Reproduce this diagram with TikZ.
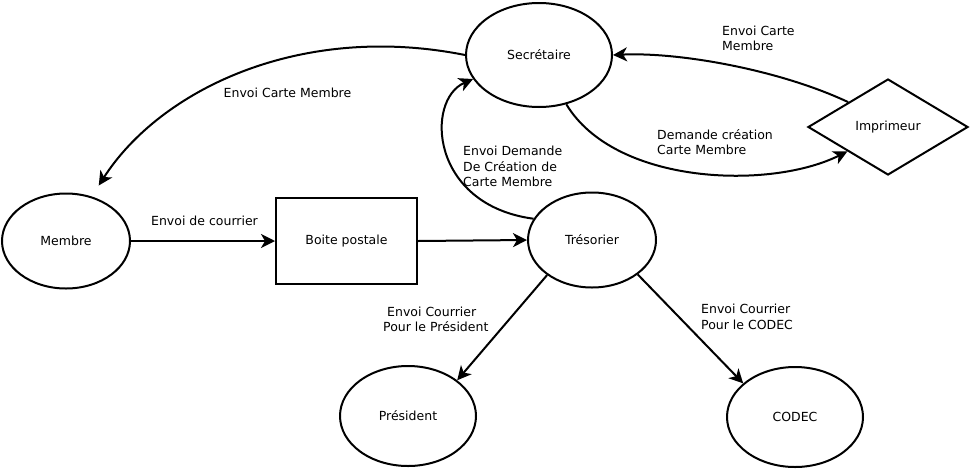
\documentclass[tikz,border=0pt]{standalone}
\usepackage{fontspec}
\setmainfont{DejaVu Sans}
\usetikzlibrary{shapes.geometric,arrows.meta}
\begin{document}
\begin{tikzpicture}[x=1pt,y=-1pt,
  font=\fontsize{12.5}{15.5}\selectfont,
  ell/.style={ellipse,draw,line width=2pt,inner sep=0pt},
  boxnode/.style={rectangle,draw,line width=2pt,minimum width=141pt,minimum height=86pt},
  dia/.style={diamond,draw,line width=2pt,minimum width=160pt,minimum height=96pt,inner sep=0pt},
  lbl/.style={inner sep=0pt,align=left},
  arr/.style={line width=2pt,-{Stealth[length=14pt,width=14pt,inset=4pt]}}]
\useasboundingbox (0,0) rectangle (971,469);
% nodes
\node[ell,minimum width=128pt,minimum height=95pt] (mem) at (66,241) {Membre};
\node[boxnode] (box) at (346.5,241) {Boite postale};
\node[ell,minimum width=128pt,minimum height=95pt] (tre) at (592,240) {Trésorier};
\node[ell,minimum width=146pt,minimum height=104pt] (sec) at (539,55) {Secrétaire};
\node[dia] (imp) at (888,127) {Imprimeur};
\node[ell,minimum width=136pt,minimum height=100pt] (pres) at (408,416) {Président};
\node[ell,minimum width=136pt,minimum height=100pt] (codec) at (795,417) {CODEC};
% connectors
\draw[arr,shorten >=13pt] (sec.west) .. controls (300,22) and (160,90) .. (mem.60);
\draw[arr] (mem.east) -- (box.west);
\draw[arr] (box.east) -- (tre.west);
\draw[arr] (tre.160) .. controls (430,205) and (425,100) .. (sec.200);
\draw[arr] (sec.-61) .. controls (615,185) and (770,190) .. (imp.211);
\draw[arr] (imp.148) .. controls (780,70) and (680,52) .. (sec.east);
\draw[arr] (tre.218) -- (pres.36);
\draw[arr] (tre.-37) -- (codec.147);
% labels
\node[lbl] (l1) at (287.5,93) {Envoi Carte Membre};
\node[lbl] (l2) at (204.5,221) {Envoi de courrier};
\node[lbl,anchor=west] (l3) at (463,166.5) {Envoi Demande\\De Création de\\Carte Membre};
\node[lbl,anchor=west] (l4) at (657,142) {Demande création\\Carte Membre};
\node[lbl,anchor=west] (l5) at (722,38.5) {Envoi Carte\\Membre};
\node[lbl,anchor=west] (l6) at (383,319.5) {\hspace{4pt}Envoi Courrier\\Pour le Président};
\node[lbl,anchor=west] (l7) at (701,317) {Envoi Courrier\\Pour le CODEC};
\end{tikzpicture}
\end{document}
